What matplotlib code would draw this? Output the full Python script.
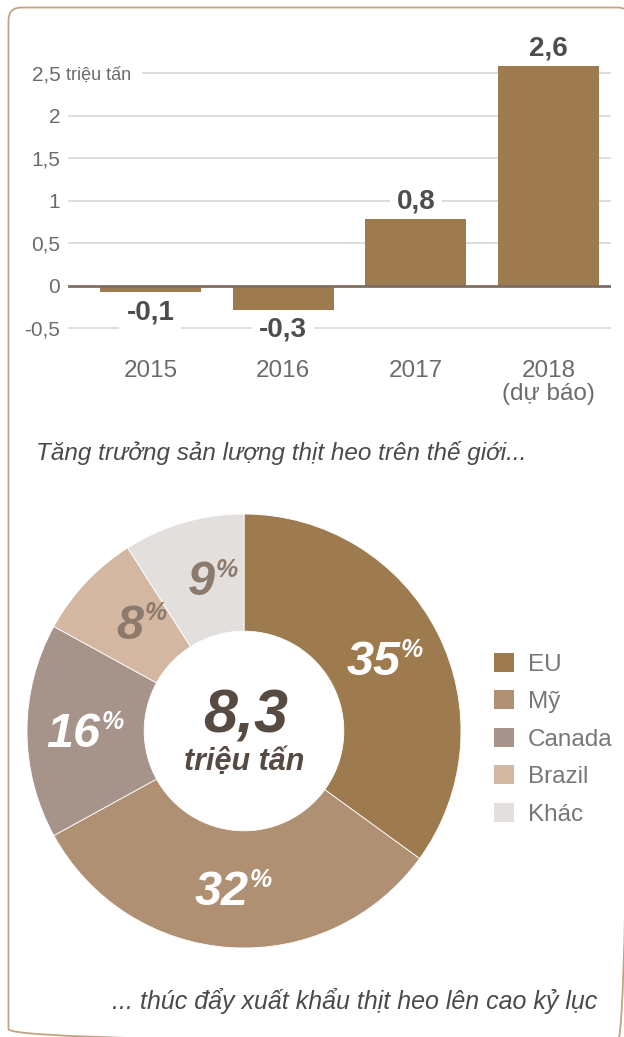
import matplotlib.pyplot as plt
from matplotlib.patches import FancyBboxPatch, Patch
import numpy as np

plt.rcParams['font.family'] = ['Liberation Sans', 'DejaVu Sans']

# bar chart data (million tonnes growth)
years = ['2015', '2016', '2017', '2018\n(dự báo)']
growth = [-0.075, -0.28, 0.785, 2.59]
growth_labels = ['-0,1', '-0,3', '0,8', '2,6']
ytick_vals = [-0.5, 0, 0.5, 1, 1.5, 2, 2.5]
ytick_labels = ['-0,5', '0', '0,5', '1', '1,5', '2', '2,5']

# donut data (export share, %)
regions = ['EU', 'Mỹ', 'Canada', 'Brazil', 'Khác']
shares = [35, 32, 16, 8, 9]
region_colors = ['#9e7b4f', '#b09072', '#a6948b', '#d3b7a1', '#e3dfdc']
pct_colors = ['white', 'white', 'white', '#8c7b6c', '#8c7b6c']
total_label = '8,3'

W, H = 624, 1037
fig = plt.figure(figsize=(W / 100, H / 100), dpi=100)


def box(x0, y0, x1, y1):
    # pixel box (top-left origin) -> figure fraction
    return [x0 / W, 1 - y1 / H, (x1 - x0) / W, (y1 - y0) / H]


bg = fig.add_axes([0, 0, 1, 1], zorder=0)
bg.set_xlim(0, W)
bg.set_ylim(H, 0)
bg.axis('off')
frame = FancyBboxPatch((8.5, 7.5), 622, 1034.5, boxstyle='round,pad=0,rounding_size=13',
                       fill=False, ec='#c0a582', lw=1.3)
bg.add_patch(frame)

# ---- bar chart ----
bar_color = '#9e7b4f'
tick_color = '#6b6b6b'
ax = fig.add_axes(box(68, 52, 611, 336.7), zorder=1)
ax.patch.set_alpha(0)
ax.set_xlim(-0.62, 3.47)
ax.set_ylim(-0.6, 2.75)
for v in ytick_vals:
    if v == 0:
        continue
    xmin = (143 - 68) / 543 if v == 2.5 else 0
    ax.axhline(v, xmin=xmin, color='#d8d8d8', lw=1.2, zorder=0)
ax.bar(range(len(years)), growth, width=0.76, color=bar_color, zorder=2)
ax.axhline(0, color='#7d6e62', lw=2.0, zorder=3)
for s in ax.spines.values():
    s.set_visible(False)
ax.set_yticks(ytick_vals, ytick_labels)
ax.tick_params(axis='y', length=0, pad=5.5, labelsize=15, labelcolor=tick_color)
ax.set_xticks(range(len(years)), years)
ax.tick_params(axis='x', length=0, pad=17, labelsize=17.5, labelcolor=tick_color)
for lbl in ax.get_xticklabels():
    lbl.set_linespacing(1.05)
bg.text(66, 75, 'triệu tấn', fontsize=13, color=tick_color, va='center', ha='left')

for i, (v, l) in enumerate(zip(growth, growth_labels)):
    off = 12.5 if v > 0 else -14.5
    ax.annotate(l, (i, v), xytext=(0, off), textcoords='offset points',
                ha='center', va='center', fontsize=20, fontweight='bold', color='#4d4d4d',
                bbox=dict(fc='white', ec='none', pad=5), zorder=1.5)

bg.text(36, 453, 'Tăng trưởng sản lượng thịt heo trên thế giới...', fontsize=17.5,
        style='italic', color='#4a4a4a', va='center', ha='left')

# ---- donut ----
ax2 = fig.add_axes(box(27, 514, 461, 948), zorder=1)
ax2.pie(shares, colors=region_colors, startangle=90, counterclock=False, radius=1,
        wedgeprops=dict(width=0.54, edgecolor='white', linewidth=0.6))
ax2.set_xlim(-1, 1)
ax2.set_ylim(-1, 1)
ax2.set_aspect('equal')

cum = np.cumsum(shares)
for s, c, col in zip(shares, cum, pct_colors):
    theta = np.deg2rad(90 - (c - s / 2) * 3.6)
    pos = (0.73 * np.cos(theta), 0.73 * np.sin(theta))
    ax2.annotate(str(s), pos, xytext=(10.8, -11.5), textcoords='offset points',
                 ha='right', va='baseline', fontsize=35, fontweight='bold', style='italic', color=col)
    ax2.annotate('%', pos, xytext=(11.5, 1.5), textcoords='offset points',
                 ha='left', va='baseline', fontsize=18, fontweight='bold', style='italic', color=col)

bg.text(246, 732, total_label, fontsize=44, fontweight='bold', style='italic',
        color='#574a42', ha='center', va='baseline')
bg.text(244, 770, 'triệu tấn', fontsize=22, fontweight='bold', style='italic',
        color='#574a42', ha='center', va='baseline')

handles = [Patch(fc=c, ec='none', label=r) for r, c in zip(regions, region_colors)]
fig.legend(handles=handles, loc='upper left', bbox_to_anchor=(494 / W, 1 - 653 / H),
           frameon=False, borderpad=0, borderaxespad=0, fontsize=17.5, handlelength=0.82,
           handleheight=0.82, handletextpad=0.58, labelspacing=0.6, labelcolor='#777777')

bg.text(597, 1001, '... thúc đẩy xuất khẩu thịt heo lên cao kỷ lục', fontsize=18,
        style='italic', color='#4a4a4a', va='center', ha='right')

fig.savefig('out.png', dpi=100)
